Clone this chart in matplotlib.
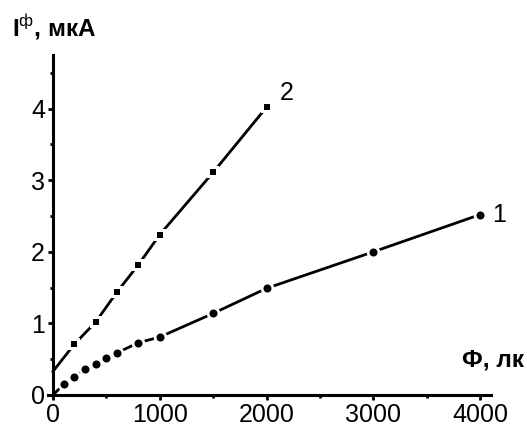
import matplotlib
matplotlib.use("Agg")
import matplotlib.pyplot as plt
from matplotlib.ticker import MultipleLocator

# curve 1 (circles)
flux_1 = [0, 100, 200, 300, 400, 500, 600, 800, 1000, 1500, 2000, 3000, 4000]
current_1 = [0.0, 0.15, 0.25, 0.37, 0.44, 0.51, 0.59, 0.73, 0.81, 1.14, 1.49, 2.0, 2.52]
# curve 2 (squares)
flux_2 = [0, 200, 400, 600, 800, 1000, 1500, 2000]
current_2 = [0.33, 0.71, 1.02, 1.44, 1.82, 2.24, 3.11, 4.02]

x_ticks = [0, 1000, 2000, 3000, 4000]
y_ticks = [0, 1, 2, 3, 4]


def main():
    plt.rcParams['font.family'] = ['Liberation Sans', 'DejaVu Sans']
    plt.rcParams['mathtext.fontset'] = 'custom'
    plt.rcParams['mathtext.rm'] = 'Liberation Sans'
    plt.rcParams['mathtext.bf'] = 'Liberation Sans:bold'

    fig = plt.figure(figsize=(5.27, 4.28), dpi=100)
    # x = 0 sits at pixel 53, x = 4000 at pixel 480
    ax = fig.add_axes([48.2 / 527, 33 / 428, 442.5 / 527, 340 / 428])

    for xs, ys, mk, ms in [(flux_1, current_1, 'o', 5.8), (flux_2, current_2, 's', 4.8)]:
        ax.plot(xs, ys, color='black', lw=2.0, zorder=2, clip_on=False)
        # white halo gives the gap round each marker
        ax.plot(xs[1:], ys[1:], ls='none', marker=mk, ms=ms + 4,
                color='white', mew=0, zorder=3, clip_on=False)
        ax.plot(xs[1:], ys[1:], ls='none', marker=mk, ms=ms,
                color='black', mew=0, zorder=4, clip_on=False)

    ax.set_xlim(-45, 4100)
    ax.set_ylim(0, 4.75)
    ax.spines['left'].set_position(('data', 0))
    ax.spines['right'].set_visible(False)
    ax.spines['top'].set_visible(False)
    for s in ('left', 'bottom'):
        ax.spines[s].set_linewidth(2.2)
        ax.spines[s].set_zorder(5)

    ax.set_xticks(x_ticks)
    ax.set_yticks(y_ticks)
    ax.xaxis.set_minor_locator(MultipleLocator(500))
    ax.yaxis.set_minor_locator(MultipleLocator(0.5))
    ax.tick_params(which='major', direction='out', length=3.8, width=2, labelsize=18, pad=2)
    ax.tick_params(which='minor', direction='out', length=2.5, width=2)

    ax.text(4110, 2.52, '1', fontsize=18, ha='left', va='center')
    ax.text(2120, 4.22, '2', fontsize=18, ha='left', va='center')

    fig.text(12 / 527, 1 - 37 / 428, r'$\mathbf{I}^{\mathrm{ф}}$, мкА', fontsize=17.5,
             fontweight='bold', ha='left', va='baseline')
    fig.text(524 / 527, 1 - 367 / 428, 'Ф, лк', fontsize=17.5,
             fontweight='bold', ha='right', va='baseline')

    fig.savefig('out.png', dpi=100)


if __name__ == "__main__":
    main()
